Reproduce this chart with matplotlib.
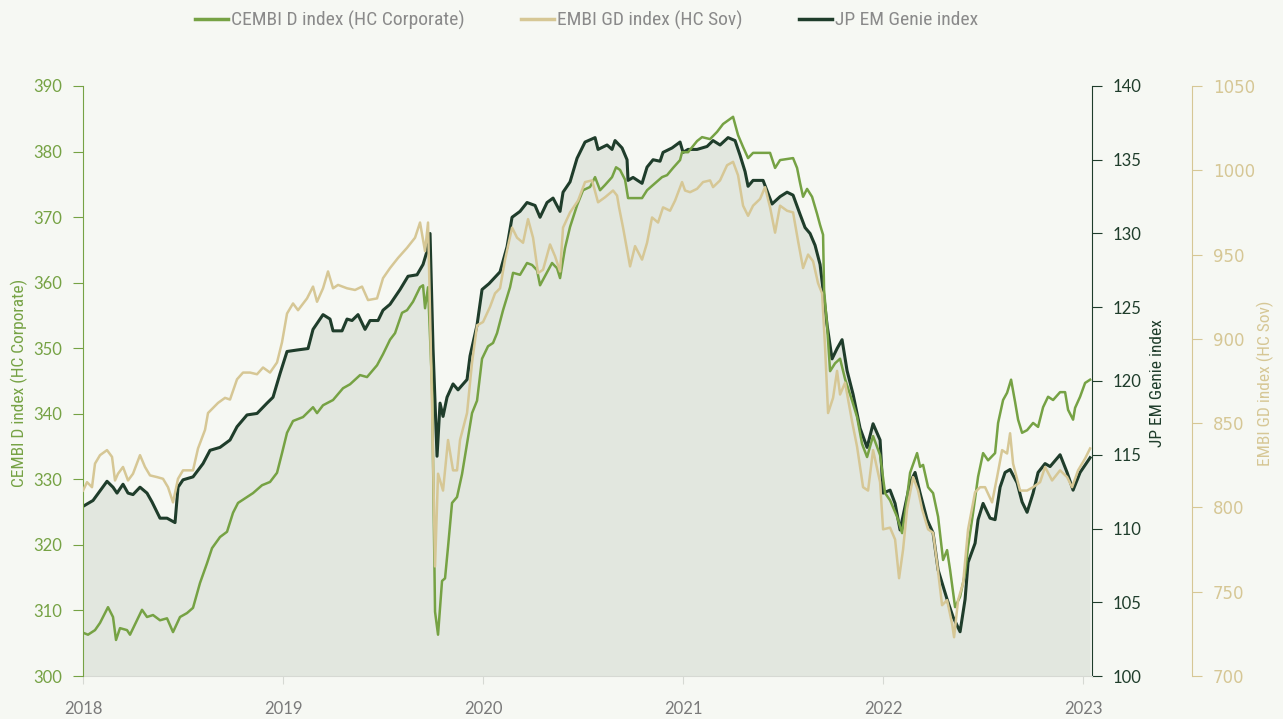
import numpy as np
import matplotlib
matplotlib.use("Agg")
import matplotlib.pyplot as plt
from matplotlib import font_manager

# CEMBI D index (HC Corporate), left axis
cembi_dates = [
    2018.000, 2018.025, 2018.060, 2018.085, 2018.125, 2018.150, 2018.165, 2018.185, 2018.220, 2018.235,
    2018.270, 2018.295, 2018.320, 2018.350, 2018.385, 2018.420, 2018.450, 2018.485, 2018.520, 2018.550,
    2018.585, 2018.620, 2018.645, 2018.685, 2018.720, 2018.750, 2018.775, 2018.820, 2018.850, 2018.895,
    2018.935, 2018.970, 2018.995, 2019.020, 2019.050, 2019.100, 2019.150, 2019.170, 2019.200, 2019.250,
    2019.300, 2019.335, 2019.385, 2019.420, 2019.470, 2019.500, 2019.535, 2019.560, 2019.595, 2019.620,
    2019.650, 2019.685, 2019.700, 2019.710, 2019.725, 2019.745, 2019.760, 2019.775, 2019.795, 2019.810,
    2019.825, 2019.845, 2019.870, 2019.895, 2019.920, 2019.945, 2019.970, 2019.995, 2020.025, 2020.050,
    2020.070, 2020.100, 2020.135, 2020.150, 2020.185, 2020.220, 2020.245, 2020.270, 2020.285, 2020.320,
    2020.345, 2020.370, 2020.385, 2020.410, 2020.435, 2020.470, 2020.500, 2020.535, 2020.560, 2020.585,
    2020.610, 2020.645, 2020.665, 2020.685, 2020.710, 2020.725, 2020.795, 2020.820, 2020.850, 2020.895,
    2020.920, 2020.950, 2020.985, 2020.995, 2021.025, 2021.070, 2021.095, 2021.135, 2021.170, 2021.200,
    2021.250, 2021.275, 2021.300, 2021.325, 2021.350, 2021.435, 2021.460, 2021.485, 2021.550, 2021.570,
    2021.585, 2021.600, 2021.620, 2021.645, 2021.670, 2021.685, 2021.700, 2021.705, 2021.720, 2021.735,
    2021.760, 2021.785, 2021.810, 2021.845, 2021.870, 2021.895, 2021.920, 2021.950, 2021.985, 2022.010,
    2022.035, 2022.070, 2022.095, 2022.110, 2022.135, 2022.170, 2022.185, 2022.200, 2022.225, 2022.250,
    2022.275, 2022.300, 2022.320, 2022.335, 2022.360, 2022.385, 2022.410, 2022.425, 2022.450, 2022.475,
    2022.500, 2022.525, 2022.560, 2022.575, 2022.600, 2022.620, 2022.640, 2022.660, 2022.675, 2022.695,
    2022.720, 2022.750, 2022.775, 2022.800, 2022.825, 2022.850, 2022.885, 2022.910, 2022.925, 2022.950,
    2022.960, 2022.985, 2023.010, 2023.035,
]
cembi_values = [
    306.6, 306.3, 307.0, 308.1, 310.5, 309.0, 305.5, 307.3, 307.0, 306.3,
    308.5, 310.1, 309.0, 309.3, 308.5, 308.8, 306.7, 309.0, 309.6, 310.4,
    314.2, 317.2, 319.5, 321.2, 322.0, 324.9, 326.4, 327.3, 327.9, 329.1,
    329.6, 331.0, 334.0, 337.1, 338.9, 339.5, 341.0, 340.1, 341.3, 342.1,
    343.9, 344.5, 345.9, 345.6, 347.4, 349.1, 351.3, 352.3, 355.4, 355.8,
    357.1, 359.3, 359.6, 356.1, 359.3, 344.2, 309.8, 306.3, 314.5, 314.9,
    319.7, 326.4, 327.3, 330.8, 335.4, 340.1, 342.0, 348.4, 350.3, 350.8,
    352.3, 355.8, 359.3, 361.5, 361.2, 363.0, 362.7, 361.9, 359.6, 361.6,
    363.0, 362.2, 360.7, 365.3, 368.5, 371.8, 374.1, 374.6, 376.1, 374.1,
    374.9, 376.1, 377.6, 377.2, 375.7, 372.9, 372.9, 374.1, 374.9, 376.1,
    376.4, 377.5, 378.7, 379.9, 379.9, 381.6, 382.2, 381.9, 383.0, 384.2,
    385.3, 382.5, 380.7, 379.0, 379.8, 379.8, 377.5, 378.7, 379.0, 377.5,
    375.2, 373.1, 374.3, 373.1, 370.5, 368.8, 367.3, 358.9, 353.5, 346.5,
    347.7, 348.4, 345.3, 342.0, 339.5, 335.4, 333.4, 336.6, 333.7, 327.9,
    326.8, 324.3, 321.8, 324.9, 331.0, 334.0, 331.9, 332.2, 328.8, 327.9,
    324.3, 317.7, 319.2, 316.2, 310.5, 312.1, 315.7, 319.7, 324.9, 330.4,
    334.0, 332.9, 334.0, 338.6, 342.1, 343.2, 345.2, 341.8, 339.1, 337.1,
    337.5, 338.6, 338.0, 341.0, 342.6, 342.1, 343.3, 343.3, 340.6, 339.1,
    340.9, 342.6, 344.7, 345.2,
]

# EMBI GD index (HC Sov), outer right axis
embi_dates = [
    2018.000, 2018.020, 2018.045, 2018.060, 2018.085, 2018.120, 2018.145, 2018.160, 2018.175, 2018.200,
    2018.225, 2018.250, 2018.285, 2018.310, 2018.335, 2018.370, 2018.400, 2018.425, 2018.450, 2018.475,
    2018.500, 2018.550, 2018.575, 2018.610, 2018.625, 2018.650, 2018.675, 2018.710, 2018.735, 2018.770,
    2018.800, 2018.835, 2018.870, 2018.900, 2018.935, 2018.970, 2018.995, 2019.020, 2019.050, 2019.075,
    2019.120, 2019.150, 2019.170, 2019.200, 2019.225, 2019.250, 2019.275, 2019.320, 2019.360, 2019.395,
    2019.425, 2019.470, 2019.500, 2019.535, 2019.575, 2019.620, 2019.660, 2019.685, 2019.710, 2019.725,
    2019.745, 2019.760, 2019.775, 2019.800, 2019.825, 2019.850, 2019.870, 2019.885, 2019.920, 2019.945,
    2019.970, 2020.000, 2020.035, 2020.060, 2020.085, 2020.110, 2020.145, 2020.170, 2020.200, 2020.225,
    2020.250, 2020.275, 2020.300, 2020.335, 2020.360, 2020.385, 2020.400, 2020.435, 2020.475, 2020.510,
    2020.545, 2020.575, 2020.610, 2020.650, 2020.670, 2020.680, 2020.700, 2020.735, 2020.760, 2020.795,
    2020.820, 2020.845, 2020.875, 2020.900, 2020.935, 2020.960, 2020.995, 2021.010, 2021.035, 2021.070,
    2021.100, 2021.135, 2021.150, 2021.185, 2021.220, 2021.250, 2021.275, 2021.300, 2021.325, 2021.350,
    2021.385, 2021.410, 2021.435, 2021.460, 2021.485, 2021.520, 2021.550, 2021.575, 2021.600, 2021.625,
    2021.650, 2021.675, 2021.695, 2021.710, 2021.725, 2021.750, 2021.770, 2021.785, 2021.810, 2021.845,
    2021.870, 2021.900, 2021.925, 2021.950, 2021.985, 2022.000, 2022.035, 2022.060, 2022.080, 2022.100,
    2022.120, 2022.150, 2022.175, 2022.195, 2022.225, 2022.250, 2022.270, 2022.295, 2022.320, 2022.345,
    2022.355, 2022.375, 2022.400, 2022.425, 2022.460, 2022.485, 2022.510, 2022.545, 2022.570, 2022.595,
    2022.620, 2022.635, 2022.650, 2022.685, 2022.720, 2022.750, 2022.785, 2022.810, 2022.845, 2022.885,
    2022.920, 2022.945, 2022.975, 2023.010, 2023.035,
]
embi_values = [
    810, 815, 812, 826, 831, 834, 830, 816, 820, 824,
    816, 820, 831, 824, 819, 818, 817, 812, 803, 817,
    822, 822, 835, 846, 856, 859, 862, 865, 864, 876,
    880, 880, 879, 883, 880, 886, 898, 915, 921, 917,
    924, 931, 922, 930, 940, 930, 932, 930, 929, 931,
    923, 924, 936, 942, 948, 954, 960, 969, 952, 969,
    861, 765, 820, 810, 840, 822, 822, 840, 856, 886,
    908, 910, 919, 927, 930, 947, 966, 960, 957, 971,
    960, 939, 941, 956, 949, 940, 966, 975, 982, 993,
    994, 981, 984, 988, 985, 978, 966, 943, 955, 947,
    957, 972, 969, 978, 976, 982, 993, 988, 987, 989,
    993, 994, 990, 994, 1003, 1005, 997, 979, 973, 979,
    983, 990, 978, 963, 979, 976, 975, 958, 942, 950,
    946, 933, 927, 895, 856, 865, 881, 867, 874, 851,
    836, 812, 810, 834, 815, 787, 788, 781, 758, 775,
    799, 818, 810, 799, 787, 785, 767, 742, 745, 731,
    723, 745, 755, 787, 809, 812, 812, 803, 818, 834,
    832, 844, 826, 810, 810, 812, 815, 824, 816, 822,
    818, 812, 822, 829, 835,
]

# JP EM Genie index, inner right axis
genie_dates = [
    2018.000, 2018.050, 2018.120, 2018.150, 2018.170, 2018.200, 2018.225, 2018.250, 2018.285, 2018.320,
    2018.345, 2018.385, 2018.420, 2018.460, 2018.475, 2018.500, 2018.550, 2018.600, 2018.635, 2018.685,
    2018.735, 2018.770, 2018.820, 2018.870, 2018.920, 2018.950, 2018.985, 2019.020, 2019.070, 2019.125,
    2019.150, 2019.200, 2019.235, 2019.250, 2019.295, 2019.320, 2019.345, 2019.375, 2019.410, 2019.435,
    2019.475, 2019.500, 2019.535, 2019.585, 2019.625, 2019.670, 2019.700, 2019.720, 2019.735, 2019.750,
    2019.770, 2019.785, 2019.800, 2019.820, 2019.850, 2019.875, 2019.920, 2019.935, 2019.970, 2019.995,
    2020.030, 2020.085, 2020.120, 2020.145, 2020.185, 2020.220, 2020.260, 2020.285, 2020.320, 2020.350,
    2020.385, 2020.400, 2020.435, 2020.470, 2020.510, 2020.560, 2020.575, 2020.620, 2020.645, 2020.660,
    2020.695, 2020.720, 2020.725, 2020.750, 2020.795, 2020.820, 2020.850, 2020.885, 2020.900, 2020.945,
    2020.985, 2021.000, 2021.025, 2021.070, 2021.120, 2021.150, 2021.185, 2021.225, 2021.260, 2021.285,
    2021.310, 2021.325, 2021.350, 2021.400, 2021.445, 2021.485, 2021.520, 2021.550, 2021.585, 2021.610,
    2021.635, 2021.660, 2021.685, 2021.700, 2021.720, 2021.745, 2021.770, 2021.795, 2021.820, 2021.850,
    2021.885, 2021.920, 2021.950, 2021.985, 2022.000, 2022.035, 2022.060, 2022.085, 2022.110, 2022.135,
    2022.160, 2022.185, 2022.220, 2022.250, 2022.275, 2022.320, 2022.350, 2022.385, 2022.410, 2022.425,
    2022.460, 2022.475, 2022.500, 2022.535, 2022.560, 2022.585, 2022.610, 2022.635, 2022.670, 2022.695,
    2022.720, 2022.750, 2022.775, 2022.810, 2022.835, 2022.885, 2022.920, 2022.950, 2022.985, 2023.020,
    2023.035,
]
genie_values = [
    111.5, 111.9, 113.2, 112.8, 112.4, 113.0, 112.4, 112.3, 112.8, 112.4,
    111.8, 110.7, 110.7, 110.4, 112.8, 113.3, 113.5, 114.4, 115.3, 115.5,
    116.0, 116.9, 117.7, 117.8, 118.5, 118.9, 120.5, 122.0, 122.1, 122.2,
    123.5, 124.5, 124.2, 123.4, 123.4, 124.2, 124.1, 124.5, 123.5, 124.1,
    124.1, 124.8, 125.2, 126.2, 127.1, 127.2, 127.9, 128.8, 130.0, 122.2,
    114.9, 118.5, 117.6, 118.9, 119.8, 119.4, 120.1, 121.7, 123.8, 126.2,
    126.6, 127.4, 129.1, 131.1, 131.5, 132.1, 131.9, 131.1, 132.1, 132.4,
    131.5, 132.8, 133.5, 135.1, 136.2, 136.5, 135.7, 136.0, 135.7, 136.3,
    135.8, 135.0, 133.6, 133.8, 133.4, 134.5, 135.0, 134.9, 135.5, 135.8,
    136.2, 135.5, 135.7, 135.7, 135.9, 136.3, 136.0, 136.5, 136.3, 135.3,
    134.2, 133.2, 133.6, 133.6, 132.0, 132.5, 132.8, 132.6, 131.3, 130.4,
    130.0, 129.2, 127.9, 126.2, 123.8, 121.5, 122.2, 122.8, 120.7, 119.1,
    116.8, 115.5, 117.1, 116.0, 112.4, 112.6, 111.7, 109.9, 111.5, 113.1,
    113.8, 112.4, 110.6, 109.7, 107.2, 105.2, 104.0, 103.0, 105.2, 107.7,
    109.0, 110.6, 111.7, 110.7, 110.6, 112.8, 113.8, 114.0, 113.1, 111.8,
    111.1, 112.4, 113.8, 114.4, 114.2, 115.0, 113.8, 112.6, 113.8, 114.5,
    114.8,
]

years = [2018, 2019, 2020, 2021, 2022, 2023]
cembi_ticks = list(range(300, 391, 10))
genie_ticks = list(range(100, 141, 5))
embi_ticks = list(range(700, 1051, 50))

BG = "#f6f8f3"
FILL = "#e2e7df"
GREEN = "#76a244"
TAN = "#d6c795"
DARK = "#1f3d2b"
GREY = "#8a8a8a"

names = {f.name for f in font_manager.fontManager.ttflist}
narrow = "Lato"
for cand in ["Liberation Sans Narrow", "Roboto Condensed", "Open Sans Condensed", "Lato"]:
    if cand in names:
        narrow = cand
        break
nums = "Lato" if "Lato" in names else "DejaVu Sans"

fig = plt.figure(figsize=(12.83, 7.19), dpi=100, facecolor=BG)
ax_g = fig.add_axes([0.0647, 0.0598, 0.7865, 0.8206])
ax_c = ax_g.twinx()
ax_e = ax_g.twinx()

ax_g.set_facecolor(BG)
ax_c.patch.set_visible(False)
ax_e.patch.set_visible(False)

# shaded area under the Genie index
ax_g.fill_between(genie_dates, genie_values, 100, color=FILL, lw=0, zorder=1)
ax_e.plot(embi_dates, embi_values, color=TAN, lw=1.8)
ax_c.plot(cembi_dates, cembi_values, color=GREEN, lw=1.8)
ax_g.plot(genie_dates, genie_values, color=DARK, lw=2.2, zorder=3)

# cembi on the left, genie on the inner right
ax_c.yaxis.tick_left()
ax_c.yaxis.set_label_position("left")
ax_g.yaxis.tick_right()
ax_g.yaxis.set_label_position("right")

ax_g.set_xlim(2018, 2023.045)
ax_g.set_ylim(100, 140)
ax_c.set_ylim(300, 390)
ax_e.set_ylim(700, 1050)

ax_g.set_xticks(years)
ax_g.set_xticklabels([str(y) for y in years])
ax_g.tick_params(axis="x", length=6, color="#d6d9d3", pad=12, labelsize=12, labelcolor="#7a7a7a")

ax_c.set_yticks(cembi_ticks)
ax_c.tick_params(axis="y", length=7, color=GREEN, pad=8, labelsize=12, labelcolor=GREEN)

ax_g.set_yticks(genie_ticks)
ax_g.tick_params(axis="y", length=7, color=DARK, pad=8, labelsize=12, labelcolor=DARK)

ax_e.set_yticks(embi_ticks)
ax_e.tick_params(axis="y", length=7, color=TAN, pad=8, labelsize=12, labelcolor=TAN)

for a in (ax_g, ax_c, ax_e):
    for lab in a.get_xticklabels() + a.get_yticklabels():
        lab.set_fontfamily(nums)
    for s in a.spines.values():
        s.set_visible(False)

ax_c.spines["left"].set_visible(True)
ax_c.spines["left"].set_color(GREEN)
ax_g.spines["bottom"].set_visible(True)
ax_g.spines["bottom"].set_color("#d6d9d3")
ax_g.spines["right"].set_visible(True)
ax_g.spines["right"].set_color(DARK)
ax_e.spines["right"].set_visible(True)
ax_e.spines["right"].set_color(TAN)
ax_e.spines["right"].set_position(("axes", 1.099))

ax_c.set_ylabel("CEMBI D index (HC Corporate)", fontfamily=narrow, fontsize=12.5, color=GREEN)
ax_g.set_ylabel("JP EM Genie index", fontfamily=narrow, fontsize=12.5, color=DARK)
ax_e.set_ylabel("EMBI GD index (HC Sov)", fontfamily=narrow, fontsize=12.5, color=TAN)
ax_c.yaxis.set_label_coords(-0.0635, 0.497)
ax_g.yaxis.set_label_coords(1.0644, 0.497)
ax_e.yaxis.set_label_coords(1.1715, 0.497)
for a in (ax_c, ax_g, ax_e):
    a.yaxis.label.set_verticalalignment("center")
    a.yaxis.label.set_horizontalalignment("center")

handles = [
    plt.Line2D([], [], color=GREEN, lw=2.5),
    plt.Line2D([], [], color=TAN, lw=2.5),
    plt.Line2D([], [], color=DARK, lw=2.5),
]
labels = ["CEMBI D index (HC Corporate)", "EMBI GD index (HC Sov)", "JP EM Genie index"]
fig.legend(handles, labels, loc="center", bbox_to_anchor=(0.457, 0.972), ncol=3, frameon=False,
           handlelength=1.7, handletextpad=0.15, columnspacing=2.9,
           prop={"family": narrow, "size": 14}, labelcolor=GREY)

fig.savefig("out.png", dpi=100, facecolor=BG)
